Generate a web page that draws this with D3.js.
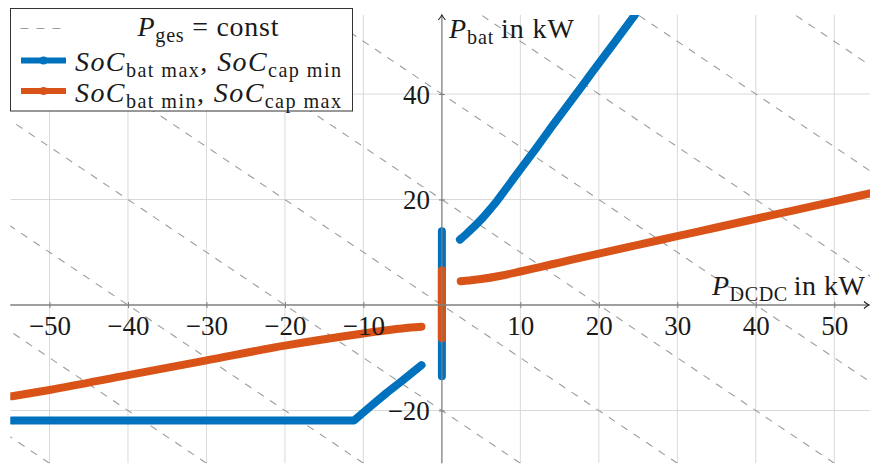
<!DOCTYPE html>
<html>
<head>
<meta charset="utf-8">
<script src="https://cdn.jsdelivr.net/npm/d3@7"></script>
<style>
  body { margin: 0; background: #fff; }
  svg { display: block; }
  text { font-family: "Liberation Serif", "Times New Roman", serif; fill: #1a1a1a; }
</style>
</head>
<body>
<svg width="870" height="464"></svg>
<script>
// ticks
const xTicks = [-50, -40, -30, -20, -10, 10, 20, 30, 40, 50];
const yTicks = [-20, 20, 40];
// P_bat + P_DCDC = const lines
const gesLevels = [-80, -60, -40, -20, 0, 20, 40, 60, 80, 100];

// SoC_bat max, SoC_cap min (blue)
const blueNegX = [-54.8, -11.2, -9, -7, -5, -2.6];
const blueNegY = [-21.9, -21.9, -19.1, -16.6, -14.3, -11.4];
const blueVertY = [-13.5, 14];
const bluePosX = [2.3, 3, 4, 5, 6, 7, 8, 10, 12, 14, 16, 18, 20, 22, 24.6];
const bluePosY = [12.4, 13.3, 14.7, 16.2, 17.9, 19.7, 21.7, 25.7, 29.7, 33.8, 37.8, 41.8, 45.8, 49.8, 55];

// SoC_bat min, SoC_cap max (orange)
const orangeNegX = [-54.8, -50, -40, -30, -20, -10, -6, -4, -2.6];
const orangeNegY = [-17.3, -16.1, -13.3, -10.5, -7.7, -5.4, -4.6, -4.25, -4.1];
const orangeVertY = [-6.3, 6.6];
const orangePosX = [2.4, 3.5, 5, 7.5, 10, 12.5, 15, 20, 25, 30, 35, 40, 45, 50, 55];
const orangePosY = [4.5, 4.64, 4.92, 5.55, 6.35, 7.2, 8.05, 9.75, 11.4, 13.05, 14.7, 16.35, 18.0, 19.65, 21.3];

const blue = '#0072bd';
const orange = '#d95319';
const dashGray = '#9c9c9c';
const serif = '"Liberation Serif", "Times New Roman", serif';

const svg = d3.select('svg');
const x = d3.scaleLinear().domain([-55, 55]).range([10.26, 873.5]);
const y = d3.scaleLinear().domain([-30, 55]).range([463.25, 14.9]);

svg.append('defs').append('clipPath').attr('id', 'plot')
  .append('rect')
  .attr('x', x(-55)).attr('y', y(55))
  .attr('width', 870 - x(-55)).attr('height', y(-30) - y(55));

const plot = svg.append('g').attr('clip-path', 'url(#plot)');

// grid
plot.selectAll('.vgrid').data(xTicks).enter().append('line')
  .attr('x1', d => x(d)).attr('x2', d => x(d))
  .attr('y1', y(55)).attr('y2', y(-30))
  .attr('stroke', '#d9d9d9').attr('stroke-width', 1);
plot.selectAll('.hgrid').data(yTicks).enter().append('line')
  .attr('x1', x(-55)).attr('x2', x(55))
  .attr('y1', d => y(d)).attr('y2', d => y(d))
  .attr('stroke', '#d9d9d9').attr('stroke-width', 1);

// P_ges = const
plot.selectAll('.ges').data(gesLevels).enter().append('line')
  .attr('x1', d => x(d + 30)).attr('y1', y(-30))
  .attr('x2', d => x(d - 55)).attr('y2', y(55))
  .attr('stroke', dashGray).attr('stroke-width', 1.1)
  .attr('stroke-dasharray', '7.5,7.5');

// axes
const xAxis = svg.append('g')
  .attr('transform', `translate(0,${y(0)})`)
  .call(d3.axisBottom(x).tickValues(xTicks).tickSize(6).tickFormat(d3.format('d')));
xAxis.select('.domain').remove();
xAxis.selectAll('.tick line').attr('y1', -3).attr('y2', 3).attr('stroke', '#7f7f7f');
xAxis.selectAll('.tick text')
  .attr('y', 30).attr('dy', 0)
  .style('font-family', serif).style('font-size', '27px').attr('fill', '#1a1a1a');

const yAxis = svg.append('g')
  .attr('transform', `translate(${x(0)},0)`)
  .call(d3.axisLeft(y).tickValues(yTicks).tickSize(6).tickFormat(d3.format('d')));
yAxis.select('.domain').remove();
yAxis.selectAll('.tick line').attr('x1', -3).attr('x2', 3).attr('stroke', '#7f7f7f');
yAxis.selectAll('.tick text')
  .attr('x', -12).attr('dy', '0.34em')
  .style('font-family', serif).style('font-size', '27px').attr('fill', '#1a1a1a');

const axisColor = '#7f7f7f';
svg.append('line')
  .attr('x1', x(-55)).attr('x2', 869).attr('y1', y(0)).attr('y2', y(0))
  .attr('stroke', axisColor).attr('stroke-width', 1.3);
svg.append('path')
  .attr('d', `M${869 - 5},${y(0) - 3.5} Q${869 - 2},${y(0) - 0.8} 869,${y(0)} Q${869 - 2},${y(0) + 0.8} ${869 - 5},${y(0) + 3.5}`)
  .attr('fill', 'none').attr('stroke', '#222').attr('stroke-width', 1.1);
svg.append('line')
  .attr('x1', x(0)).attr('x2', x(0)).attr('y1', y(-30)).attr('y2', y(55))
  .attr('stroke', axisColor).attr('stroke-width', 1.3);
svg.append('path')
  .attr('d', `M${x(0) - 3.5},${y(55) + 5} Q${x(0) - 0.8},${y(55) + 2} ${x(0)},${y(55)} Q${x(0) + 0.8},${y(55) + 2} ${x(0) + 3.5},${y(55) + 5}`)
  .attr('fill', 'none').attr('stroke', '#222').attr('stroke-width', 1.1);

// math-ish text: [str, kind] kind: i italic, r roman, s subscript
function mathText(parent, parts, px, py, size, anchor, width) {
  const t = parent.append('text')
    .attr('x', px).attr('y', py)
    .attr('font-size', size)
    .attr('text-anchor', anchor || 'start');
  let shifted = false;
  parts.forEach(([str, kind]) => {
    const s = t.append('tspan').text(str);
    if (kind === 'i') s.attr('font-style', 'italic');
    if (kind === 's') {
      s.attr('font-size', size * 0.72);
      if (!shifted) { s.attr('dy', size * 0.22); shifted = true; }
    } else if (shifted) {
      s.attr('dy', -size * 0.22); shifted = false;
    }
  });
  if (width) t.attr('textLength', width).attr('lengthAdjust', 'spacing');
  return t;
}

mathText(svg, [['P', 'i'], ['bat', 's'], ['\u2009in kW', 'r']], x(0) + 7, 38, 28, 'start', 125);
mathText(svg, [['P', 'i'], ['DCDC', 's'], ['\u2009in kW', 'r']], 865, 295, 28, 'end', 153);

// data
const line = d3.line().x(d => x(d[0])).y(d => y(d[1]));
const smooth = d3.line().x(d => x(d[0])).y(d => y(d[1])).curve(d3.curveMonotoneX);

function drawSeries(xs, ys, color, gen) {
  plot.append('path')
    .datum(xs.map((v, i) => [v, ys[i]]))
    .attr('d', gen)
    .attr('fill', 'none').attr('stroke', color)
    .attr('stroke-width', 8).attr('stroke-linecap', 'round').attr('stroke-linejoin', 'round');
}

drawSeries(blueNegX, blueNegY, blue, line);
drawSeries([0, 0], blueVertY, blue, line);
drawSeries(bluePosX, bluePosY, blue, smooth);
drawSeries(orangeNegX, orangeNegY, orange, smooth);
drawSeries([0, 0], orangeVertY, orange, line);
drawSeries(orangePosX, orangePosY, orange, smooth);

// legend
const legend = svg.append('g');
legend.append('rect')
  .attr('x', 10.5).attr('y', 8.5).attr('width', 342).attr('height', 102.5)
  .attr('fill', '#fff').attr('stroke', '#333').attr('stroke-width', 1);

const legendRows = [
  { y: 28.5, base: 36, kind: 'dash', color: dashGray, width: 141,
    parts: [['P', 'i'], ['ges', 's'], [' = const', 'r']] },
  { y: 60.5, base: 71, kind: 'line', color: blue, width: 266,
    parts: [['SoC', 'i'], ['bat max', 's'], [', ', 'r'], ['SoC', 'i'], ['cap min', 's']] },
  { y: 91, base: 101.5, kind: 'line', color: orange, width: 266,
    parts: [['SoC', 'i'], ['bat min', 's'], [', ', 'r'], ['SoC', 'i'], ['cap max', 's']] }
];
legendRows.forEach(r => {
  if (r.kind === 'dash') {
    legend.append('line')
      .attr('x1', 20.5).attr('x2', 62).attr('y1', r.y).attr('y2', r.y)
      .attr('stroke', r.color).attr('stroke-width', 1.1).attr('stroke-dasharray', '8,8');
  } else {
    legend.append('line')
      .attr('x1', 21).attr('x2', 66).attr('y1', r.y).attr('y2', r.y)
      .attr('stroke', r.color).attr('stroke-width', 6);
    legend.append('circle')
      .attr('cx', 43.5).attr('cy', r.y).attr('r', 4)
      .attr('fill', r.color);
  }
  mathText(legend, r.parts, 208, r.base, 28, 'middle', r.width);
});
</script>
</body>
</html>
